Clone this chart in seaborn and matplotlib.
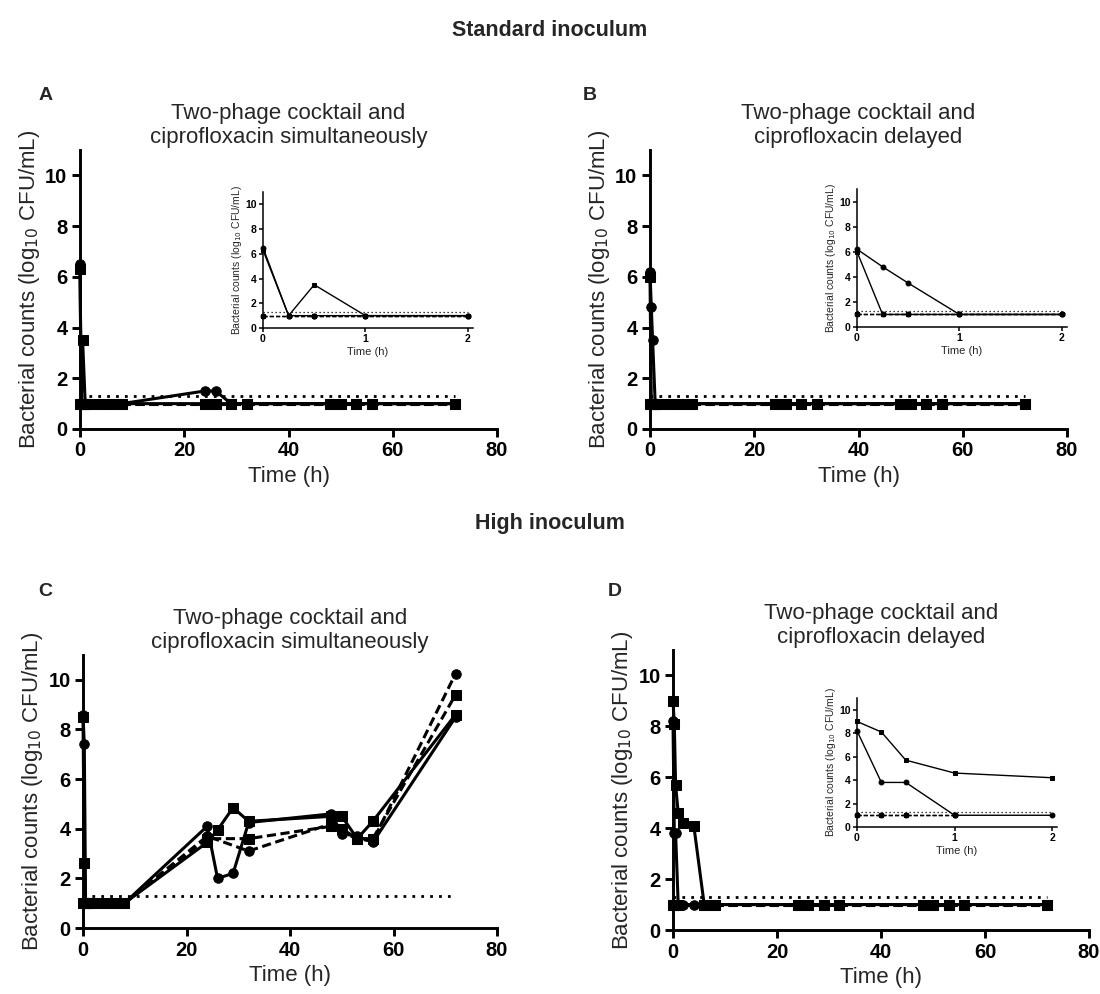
import numpy as np
import pandas as pd
import matplotlib
matplotlib.use('Agg')
import matplotlib.pyplot as plt
import seaborn as sns

sns.set_style('ticks')
plt.rcParams['font.family'] = ['Liberation Sans', 'DejaVu Sans']

# sampling times (h)
times = [0, 0.25, 0.5, 1, 2, 4, 6, 8, 24, 26, 29, 32, 48, 50, 53, 56, 72]
lod = 1.3  # limit of detection

# Panel A - standard inoculum, simultaneous
a_circle = [6.5, 1, 1, 1, 1, 1, 1, 1, 1.5, 1.5, 1, 1, 1, 1, 1, 1, 1]
a_square = [6.3, 1, 3.5, 1, 1, 1, 1, 1, 1, 1, 1, 1, 1, 1, 1, 1, 1]
a_dash_circle = [1] * 17
a_dash_square = [1] * 17

# Panel B - standard inoculum, delayed
b_circle = [6.2, 4.8, 3.5, 1, 1, 1, 1, 1, 1, 1, 1, 1, 1, 1, 1, 1, 1]
b_square = [6.0, 1, 1, 1, 1, 1, 1, 1, 1, 1, 1, 1, 1, 1, 1, 1, 1]
b_dash_circle = [1] * 17
b_dash_square = [1] * 17

# Panel C - high inoculum, simultaneous
c_circle = [8.6, 7.4, 1, 1, 1, 1, 1, 1, 4.1, 2.0, 2.2, 4.25, 4.6, 3.8, 3.7, 3.45, 8.5]
c_square = [8.5, 2.6, 1, 1, 1, 1, 1, 1, 3.45, 3.95, 4.85, 4.3, 4.5, 4.5, 3.6, 4.3, 8.6]
c_dash_times = [0, 0.25, 0.5, 1, 2, 4, 6, 8, 24, 32, 48, 50, 53, 56, 72]
c_dash_circle = [1, 1, 1, 1, 1, 1, 1, 1, 3.7, 3.1, 4.2, 3.85, 3.6, 3.5, 10.25]
c_dash_square = [1, 1, 1, 1, 1, 1, 1, 1, 3.6, 3.6, 4.1, 4.0, 3.6, 3.6, 9.4]

# Panel D - high inoculum, delayed
d_circle = [8.2, 3.8, 3.8, 1, 1, 1, 1, 1, 1, 1, 1, 1, 1, 1, 1, 1, 1]
d_square = [9.0, 8.1, 5.7, 4.6, 4.2, 4.1, 1, 1, 1, 1, 1, 1, 1, 1, 1, 1, 1]
d_dash_times = [0, 0.25, 0.5, 1, 6, 8, 24, 26, 29, 32, 48, 50, 53, 56, 72]
d_dash_circle = [1] * 15
d_dash_square = [1] * 15


def make_df(solid_c, solid_s, dash_c, dash_s, dash_times=times):
    parts = [
        pd.DataFrame({'time': dash_times, 'count': dash_c, 'series': 'dash_circle'}),
        pd.DataFrame({'time': dash_times, 'count': dash_s, 'series': 'dash_square'}),
        pd.DataFrame({'time': times, 'count': solid_s, 'series': 'square'}),
        pd.DataFrame({'time': times, 'count': solid_c, 'series': 'circle'}),
    ]
    return pd.concat(parts, ignore_index=True)


markers = {'circle': 'o', 'square': 's', 'dash_circle': 'o', 'dash_square': 's'}
dashes = {'circle': '', 'square': '', 'dash_circle': (3, 1.5), 'dash_square': (3, 1.5)}

W, H = 1100, 994
fig = plt.figure(figsize=(W / 100, H / 100), dpi=100)


def box(l, t, r, b):
    return [l / W, 1 - b / H, (r - l) / W, (b - t) / H]


def style_axes(ax, xmax, xticks, big=True):
    lw = 2.1 if big else 1.1
    for s in ['top', 'right']:
        ax.spines[s].set_visible(False)
    for s in ['left', 'bottom']:
        ax.spines[s].set_linewidth(lw)
        ax.spines[s].set_color('black')
    ax.set_xlim(0, xmax)
    ax.set_ylim(0, 11)
    ax.set_xticks(xticks)
    ax.set_yticks([0, 2, 4, 6, 8, 10])
    fs = 14.5 if big else 7.5
    ax.tick_params(width=lw, length=6 if big else 3, labelsize=fs, colors='black', pad=3 if big else 1.5)
    for lab in ax.get_xticklabels() + ax.get_yticklabels():
        lab.set_fontweight('bold')
    ax.set_xlabel('Time (h)', fontsize=16 if big else 8, labelpad=4 if big else 2)
    ax.set_ylabel('Bacterial counts (log$_{10}$ CFU/mL)', fontsize=16 if big else 7.5,
                  labelpad=2 if big else 1)
    ax.patch.set_alpha(0)


def draw(ax, df, tmax, big=True):
    sub = df[df['time'] <= tmax]
    sns.lineplot(data=sub, x='time', y='count', style='series', markers=markers, dashes=dashes,
                 color='black', linewidth=2.2 if big else 1.0, markersize=6.8 if big else 3.5,
                 markeredgecolor='black', legend=False, estimator=None, sort=False, ax=ax,
                 clip_on=False)
    ax.hlines(lod, times[0], tmax, colors='black', linestyles=(0, (1, 2.2)),
              linewidth=2 if big else 0.9)


panels = [
    ('A', make_df(a_circle, a_square, a_dash_circle, a_dash_square), box(80, 150, 497, 429),
     box(263, 192, 473, 328), 'Two-phage cocktail and\nciprofloxacin simultaneously', (46, 96)),
    ('B', make_df(b_circle, b_square, b_dash_circle, b_dash_square), box(650, 150, 1067, 429),
     box(857, 189, 1067, 327), 'Two-phage cocktail and\nciprofloxacin delayed', (590, 96)),
    ('C', make_df(c_circle, c_square, c_dash_circle, c_dash_square, c_dash_times),
     box(83, 655, 497, 928), None, 'Two-phage cocktail and\nciprofloxacin simultaneously', (45, 591)),
    ('D', make_df(d_circle, d_square, d_dash_circle, d_dash_square, d_dash_times),
     box(673, 650, 1089, 930), box(857, 698, 1057, 827),
     'Two-phage cocktail and\nciprofloxacin delayed', (615, 591)),
]

for letter, df, main_box, inset_box, title, lpos in panels:
    ax = fig.add_axes(main_box)
    draw(ax, df, 72)
    style_axes(ax, 80, [0, 20, 40, 60, 80])
    ax.set_title(title, fontsize=16, pad=5, linespacing=1.2)
    fig.text(lpos[0] / W, 1 - lpos[1] / H, letter, fontsize=14, fontweight='bold',
             ha='center', va='center')
    if inset_box is not None:
        ins = fig.add_axes(inset_box)
        draw(ins, df, 2, big=False)
        style_axes(ins, 2.05, [0, 1, 2], big=False)

fig.text(0.5, 1 - 30 / H, 'Standard inoculum', fontsize=15.5, fontweight='bold', ha='center', va='center')
fig.text(0.5, 1 - 523 / H, 'High inoculum', fontsize=15.5, fontweight='bold', ha='center', va='center')

fig.savefig('out.png', dpi=100, facecolor='white')
